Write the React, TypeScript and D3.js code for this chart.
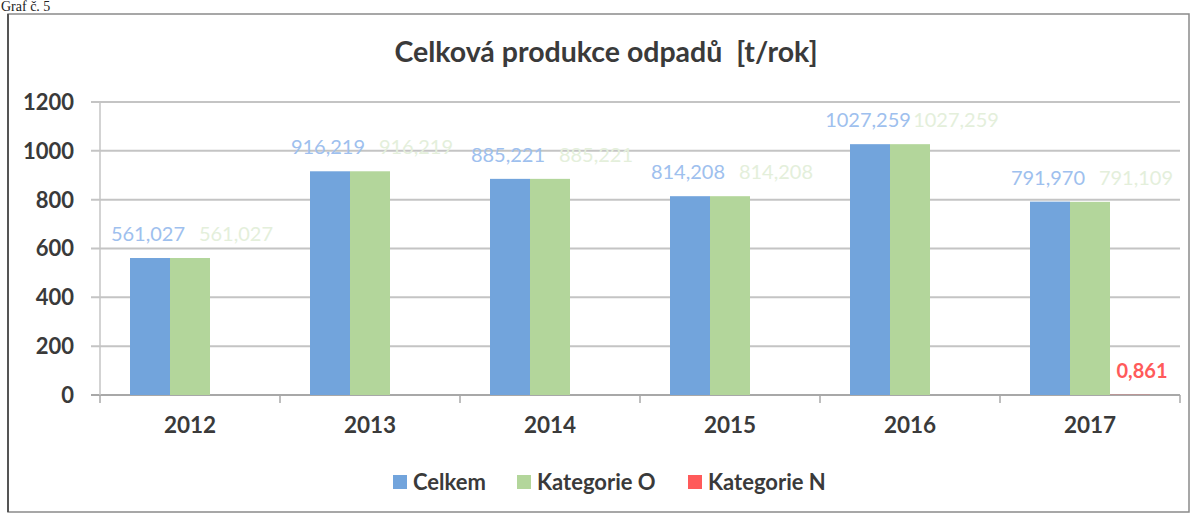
import * as d3 from "d3";
import React from "react";

const years = ["2012", "2013", "2014", "2015", "2016", "2017"];
const celkem = [561.027, 916.219, 885.221, 814.208, 1027.259, 791.97];
const kategorieO = [561.027, 916.219, 885.221, 814.208, 1027.259, 791.109];
const kategorieN = [0, 0, 0, 0, 0, 0.861];
const seriesNames = ["Celkem", "Kategorie O", "Kategorie N"];
const yTicks = [0, 200, 400, 600, 800, 1000, 1200];

const barColors = ["#72a4dc", "#b3d69b", "#ff5a5a"];
const labelColors = ["#9ec0ee", "#e4efdb", "#ff5a5a"];
const font = "Lato, 'Open Sans', sans-serif";
const textColor = "#3a3a3a";

const fmt = d3.formatLocale({ decimal: ",", thousands: "", grouping: [3], currency: ["", ""] }).format(".3f");

const App = () => {
    const width = 1194, height = 515;
    const left = 100, right = 1180, top = 102, bottom = 395;

    const series = [celkem, kategorieO, kategorieN];

    const x = d3.scaleBand().domain(years).range([left, right]).padding(0);
    const inner = d3.scaleBand().domain(seriesNames).range([30, 150]).padding(0);
    const y = d3.scaleLinear().domain([0, 1200]).range([bottom, top]);

    // green labels sit to the right of the blue ones, as in the original
    const labelShift = [-2, 46, 12];

    return (
        <svg width={width} height={height} style={{ position: "absolute", left: 0, top: 0, background: "#fff" }}>
            <text x={1} y={11} fontFamily="'Liberation Serif', serif" fontSize={14} fill="#222">Graf č. 5</text>
            <rect x={8} y={14} width={1181} height={498} fill="none" stroke="#8a8a8a" strokeWidth={1.5} />
            <line x1={8} y1={14} x2={8} y2={512} stroke="#555" strokeWidth={2} />

            <text x={606} y={62} textAnchor="middle" fontFamily={font} fontWeight="bold" fontSize={28.5} fill={textColor}>
                {"Celková produkce odpadů\u00a0 [t/rok]"}
            </text>

            {yTicks.map((t) => (
                <g key={t}>
                    <line x1={left - 9} x2={right} y1={y(t)} y2={y(t)} stroke={t === 0 ? "#a8a8a8" : "#c4c4c4"} strokeWidth={2} />
                    <text x={74} y={y(t)} dy="0.36em" textAnchor="end" fontFamily={font} fontWeight="bold" fontSize={22} fill={textColor}>
                        {t}
                    </text>
                </g>
            ))}
            <line x1={left} x2={left} y1={top} y2={bottom} stroke="#c4c4c4" strokeWidth={1.5} />

            {years.map((yr) => (
                <g key={yr}>
                    <line x1={x(yr)!} x2={x(yr)!} y1={bottom} y2={bottom + 8} stroke="#a8a8a8" strokeWidth={1.5} />
                    <text x={x(yr)! + x.bandwidth() / 2} y={425} dy="0.36em" textAnchor="middle" fontFamily={font} fontWeight="bold" fontSize={22.5} fill={textColor}>
                        {yr}
                    </text>
                </g>
            ))}
            <line x1={right} x2={right} y1={bottom} y2={bottom + 8} stroke="#a8a8a8" strokeWidth={1.5} />

            {series.map((vals, si) =>
                vals.map((v, i) => (
                    <rect key={si + "-" + i} x={x(years[i])! + inner(seriesNames[si])!} y={y(v)} width={inner.bandwidth()} height={y(0) - y(v)} fill={barColors[si]} />
                ))
            )}

            {series.map((vals, si) =>
                vals.map((v, i) =>
                    v > 0 ? (
                        <text
                            key={"l" + si + "-" + i}
                            x={x(years[i])! + inner(seriesNames[si])! + inner.bandwidth() / 2 + labelShift[si]}
                            y={y(v) - 24}
                            dy="0.36em"
                            textAnchor="middle"
                            fontFamily={font}
                            fontWeight={si === 2 ? "bold" : "normal"}
                            fontSize={20}
                            fill={labelColors[si]}
                        >
                            {fmt(v)}
                        </text>
                    ) : null
                )
            )}

            {seriesNames.map((name, i) => {
                const lx = [393, 517, 688][i];
                return (
                    <g key={name}>
                        <rect x={lx} y={475} width={14} height={14} fill={barColors[i]} />
                        <text x={lx + 20} y={482} dy="0.36em" fontFamily={font} fontWeight="bold" fontSize={22} fill={textColor}>
                            {name}
                        </text>
                    </g>
                );
            })}
        </svg>
    );
};

export default App;
